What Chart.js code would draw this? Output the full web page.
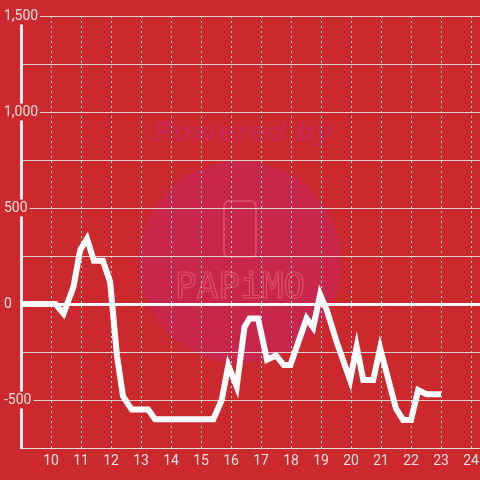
<!DOCTYPE html>
<html>
<head>
    <title>Line chart</title>
    <script src="https://cdn.jsdelivr.net/npm/chart.js"></script>
    <style>
        body { margin: 0; background: #cc292e; }
        #chartContainer { width: 480px; height: 480px; }
    </style>
</head>
<body>

    <div id="chartContainer">
        <canvas id="dataChart"></canvas>
    </div>

    <script>
        // Values (hour of day, value)
        var hours = [9.0, 10.15, 10.42, 10.75, 10.97, 11.2, 11.43, 11.73, 11.97, 12.2, 12.4, 12.69,
            13.24, 13.47, 15.41, 15.69, 15.91, 16.19, 16.45, 16.62, 16.9, 17.2, 17.5, 17.76,
            17.98, 18.52, 18.74, 18.97, 19.19, 19.52, 19.97, 20.19, 20.41, 20.74, 20.97, 21.5,
            21.74, 22.0, 22.24, 22.52, 23.0];
        var values = [0, 0, -50, 90, 280, 340, 225, 225, 116, -270, -480, -550,
            -550, -600, -600, -500, -320, -430, -120, -75, -75, -290, -268, -318,
            -318, -75, -122, 50, -31, -196, -396, -222, -396, -396, -230, -545,
            -604, -604, -448, -470, -470];
        var xTickStep = 1;
        var yTickStep = 250;
        var yLabelStep = 500;

        var BG = "#cc292e";

        var points = hours.map(function (h, i) { return { x: h, y: values[i] }; });

        // Background and the faint watermark behind the grid
        var backdropPlugin = {
            id: "backdrop",
            beforeDraw: function (chart) {
                var ctx = chart.ctx;
                ctx.save();
                ctx.fillStyle = BG;
                ctx.fillRect(0, 0, chart.width, chart.height);

                ctx.fillStyle = "#c8264a";
                ctx.beginPath();
                ctx.arc(240, 262, 101, 0, Math.PI * 2);
                ctx.fill();

                ctx.fillStyle = "#c92a4c";
                ctx.font = "italic bold 27px 'DejaVu Sans'";
                ctx.textAlign = "center";
                ctx.textBaseline = "middle";
                ctx.fillText("Powered by", 243, 134);

                ctx.strokeStyle = "rgba(235,120,130,0.55)";
                ctx.lineWidth = 1.5;
                ctx.beginPath();
                ctx.roundRect(224, 201, 32, 56, 5);
                ctx.stroke();

                ctx.font = "36px 'DejaVu Sans Mono'";
                ctx.lineWidth = 1.2;
                ctx.strokeText("PAPiMO", 240, 289);
                ctx.restore();
            }
        };

        var chart = new Chart(document.getElementById("dataChart"), {
            type: "line",
            data: {
                datasets: [
                    {
                        data: points,
                        borderColor: "#ffffff",
                        borderWidth: 6,
                        pointRadius: 0,
                        tension: 0,
                        fill: false
                    }
                ]
            },
            options: {
                responsive: true,
                maintainAspectRatio: false,
                animation: false,
                layout: { padding: { left: 21, top: 16, right: 0, bottom: 0 } },
                plugins: {
                    legend: { display: false },
                    tooltip: { enabled: false }
                },
                scales: {
                    x: {
                        type: "linear",
                        min: 9,
                        max: 24.3,
                        afterFit: function (s) { s.height = 32; s.paddingRight = 0; },
                        border: { color: "rgba(225,225,225,0.9)", width: 1, dash: [2, 3] },
                        grid: {
                            drawTicks: false,
                            color: function (c) { return c.tick && c.tick.value === 9 ? "transparent" : "rgba(255,255,255,0.85)"; }
                        },
                        ticks: {
                            stepSize: xTickStep,
                            includeBounds: false,
                            autoSkip: false,
                            maxRotation: 0,
                            padding: 5,
                            color: "rgba(255,255,255,0.85)",
                            font: { size: 14, family: "Roboto" },
                            callback: function (v) { return v === 9 ? "" : v; }
                        }
                    },
                    y: {
                        min: -750,
                        max: 1500,
                        // labels sit over the axis line, so the axis takes no room
                        afterFit: function (s) { s.width = 0; },
                        border: { color: "#f4eeee", width: 3 },
                        grid: {
                            drawTicks: false,
                            color: function (c) { return c.tick && c.tick.value === 0 ? "#ffffff" : "rgba(225,225,225,0.9)"; },
                            lineWidth: function (c) { return c.tick && c.tick.value === 0 ? 3 : 1; }
                        },
                        ticks: {
                            stepSize: yTickStep,
                            mirror: true,
                            padding: -17,
                            color: "rgba(255,255,255,0.85)",
                            font: { size: 14, family: "Roboto" },
                            showLabelBackdrop: true,
                            backdropColor: function (c) { return c.tick && c.tick.value % yLabelStep === 0 ? BG : "transparent"; },
                            backdropPadding: { left: 2, right: 2, top: 0, bottom: 0 },
                            callback: function (v) { return v % yLabelStep === 0 ? v.toLocaleString("en-US") : ""; }
                        }
                    }
                }
            },
            plugins: [backdropPlugin]
        });
    </script>

</body>
</html>
